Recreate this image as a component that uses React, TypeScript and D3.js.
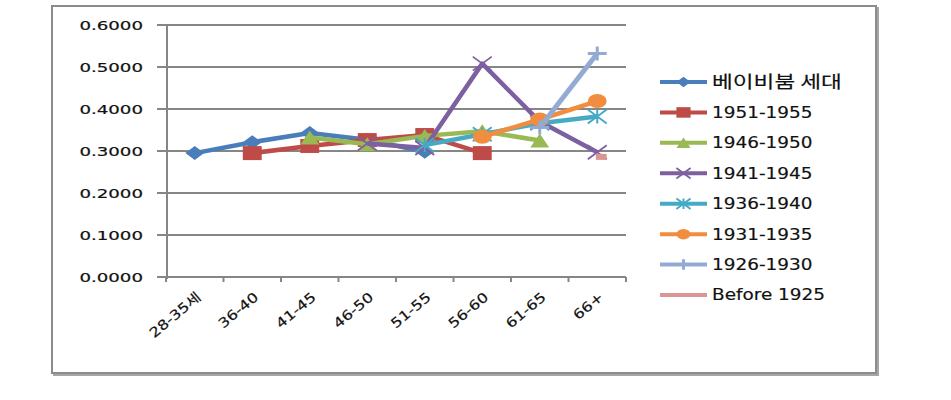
import React from "react";
import * as d3 from "d3";

const categories = ["28-35세", "36-40", "41-45", "46-50", "51-55", "56-60", "61-65", "66+"];
const yTicks = [0, 0.1, 0.2, 0.3, 0.4, 0.5, 0.6];

type V = number | null;
const babyBoom: V[] = [0.295, 0.321, 0.343, 0.327, 0.298, null, null, null];
const s1951: V[] = [null, 0.295, 0.312, 0.326, 0.338, 0.295, null, null];
const s1946: V[] = [null, null, 0.332, 0.316, 0.336, 0.347, 0.325, null];
const s1941: V[] = [null, null, null, 0.318, 0.307, 0.508, 0.37, 0.297];
const s1936: V[] = [null, null, null, null, 0.314, 0.34, 0.366, 0.382];
const s1931: V[] = [null, null, null, null, null, 0.334, 0.375, 0.419];
const s1926: V[] = [null, null, null, null, null, null, 0.356, 0.532];
const before1925: V[] = [null, null, null, null, null, null, null, 0.286];

const seriesNames = ["베이비붐 세대", "1951-1955", "1946-1950", "1941-1945", "1936-1940", "1931-1935", "1926-1930", "Before 1925"];
const seriesValues = [babyBoom, s1951, s1946, s1941, s1936, s1931, s1926, before1925];
const colors = ["#4A7EBB", "#BE4B48", "#98B954", "#7D60A0", "#46AAC5", "#F08D3E", "#93ABD3", "#D99694"];
const markers = ["diamond", "square", "triangle", "x", "star", "circle", "plus", "dash"];

// the original picture is stretched horizontally
const SX = 1.35;

function Marker({ type, color, x, y, k = 1 }: { type: string; color: string; x: number; y: number; k?: number }) {
  const t = `translate(${x},${y}) scale(${SX * k},${k})`;
  const s = 7;
  switch (type) {
    case "diamond":
      return <path transform={t} d={`M0,${-s}L${s},0L0,${s}L${-s},0Z`} fill={color} />;
    case "square":
      return <rect transform={t} x={-s} y={-s} width={2 * s} height={2 * s} fill={color} />;
    case "triangle":
      return <path transform={t} d={`M0,${-s}L${s},${s}L${-s},${s}Z`} fill={color} />;
    case "circle":
      return <circle transform={t} r={s} fill={color} />;
    case "x":
      return (
        <path transform={t} d={`M${-s},${-s}L${s},${s}M${-s},${s}L${s},${-s}`} stroke={color} strokeWidth={1.8} vectorEffect="non-scaling-stroke" fill="none" />
      );
    case "star":
      return (
        <path
          transform={t}
          d={`M${-s},${-s}L${s},${s}M${-s},${s}L${s},${-s}M0,${-s}L0,${s}`}
          stroke={color}
          strokeWidth={2}
          vectorEffect="non-scaling-stroke"
          fill="none"
        />
      );
    case "plus":
      return <path transform={t} d={`M${-s},0L${s},0M0,${-s}L0,${s}`} stroke={color} strokeWidth={3} vectorEffect="non-scaling-stroke" fill="none" />;
    case "dash":
      return <rect transform={t} x={-4} y={-3} width={8} height={6} fill={color} />;
    default:
      return null;
  }
}

export default function App() {
  const width = 951;
  const height = 400;
  const grey = "#868686";

  const x = d3.scaleBand<string>().domain(categories).range([166, 626]).padding(0);
  const cx = (c: string) => (x(c) ?? 0) + x.bandwidth() / 2;
  const y = d3.scaleLinear().domain([0, 0.6]).range([277, 25]);

  const line = d3
    .line<V>()
    .defined((d) => d !== null)
    .x((_, i) => cx(categories[i]))
    .y((d) => y(d as number));

  const legendY = d3.scalePoint<string>().domain(seriesNames).range([82, 295]);

  return (
    <svg width={width} height={height} style={{ position: "absolute", left: 0, top: 0, background: "#fff" }}>
      {/* outer frame with shadow */}
      <rect x={54} y={8} width={824} height={367} fill="none" stroke="#a6a6a6" strokeWidth={2} />
      <rect x={52} y={6} width={824} height={367} fill="#fff" stroke="#8c8c8c" strokeWidth={2} />

      {/* grid */}
      {yTicks.map((t) => (
        <g key={t}>
          <line x1={157} x2={626} y1={y(t)} y2={y(t)} stroke={grey} strokeWidth={2} />
          <text
            transform={`translate(143,${y(t)}) scale(1.4,1)`}
            textAnchor="end"
            dy="0.36em"
            fontFamily="DejaVu Sans"
            fontSize={13}
            fill="#111"
            stroke="#111"
            strokeWidth={0.2}
          >
            {t.toFixed(4)}
          </text>
        </g>
      ))}
      <line x1={167} x2={167} y1={y(0.6)} y2={y(0) + 2} stroke={grey} strokeWidth={2} />
      <line x1={166} x2={626} y1={y(0)} y2={y(0)} stroke={grey} strokeWidth={2} />
      {[...categories.map((c) => x(c) ?? 0), 626].map((v, i) => (
        <line key={i} x1={v} x2={v} y1={y(0)} y2={y(0) + 5} stroke={grey} strokeWidth={2} />
      ))}
      {categories.map((c) => (
        <text
          key={c}
          transform={`translate(${cx(c) + 4},${y(0) + 18}) rotate(-40) scale(1.2,1)`}
          textAnchor="end"
          dy="0.35em"
          fontFamily="DejaVu Sans, Noto Sans CJK KR"
          fontSize={13.5}
          fill="#111"
          stroke="#111"
          strokeWidth={0.2}
        >
          {c}
        </text>
      ))}

      {/* series */}
      {seriesValues.map((vals, si) => (
        <g key={si}>
          <path d={line(vals) ?? ""} fill="none" stroke={colors[si]} strokeWidth={si === 6 ? 5 : 4.5} strokeLinejoin="round" />
          {vals.map((v, i) =>
            v === null ? null : <Marker key={i} type={markers[si]} color={colors[si]} x={cx(categories[i]) + (si === 7 ? 4 : 0)} y={y(v)} />
          )}
        </g>
      ))}

      {/* legend */}
      {seriesNames.map((n, si) => {
        const ly = legendY(n) ?? 0;
        return (
          <g key={n}>
            <line x1={660} x2={707} y1={ly} y2={ly} stroke={colors[si]} strokeWidth={4} />
            {si < 7 && <Marker type={markers[si]} color={colors[si]} x={683.5} y={ly} k={0.75} />}
            <text
              transform={`translate(712,${ly}) scale(${si === 0 ? 1.33 : 1.23},1)`}
              dy="0.36em"
              fontFamily={si === 0 ? "Noto Sans CJK KR" : "DejaVu Sans"}
              fontSize={si === 0 ? 17 : 15}
              fill="#111"
              stroke="#111"
              strokeWidth={0.15}
            >
              {n}
            </text>
          </g>
        );
      })}
    </svg>
  );
}
